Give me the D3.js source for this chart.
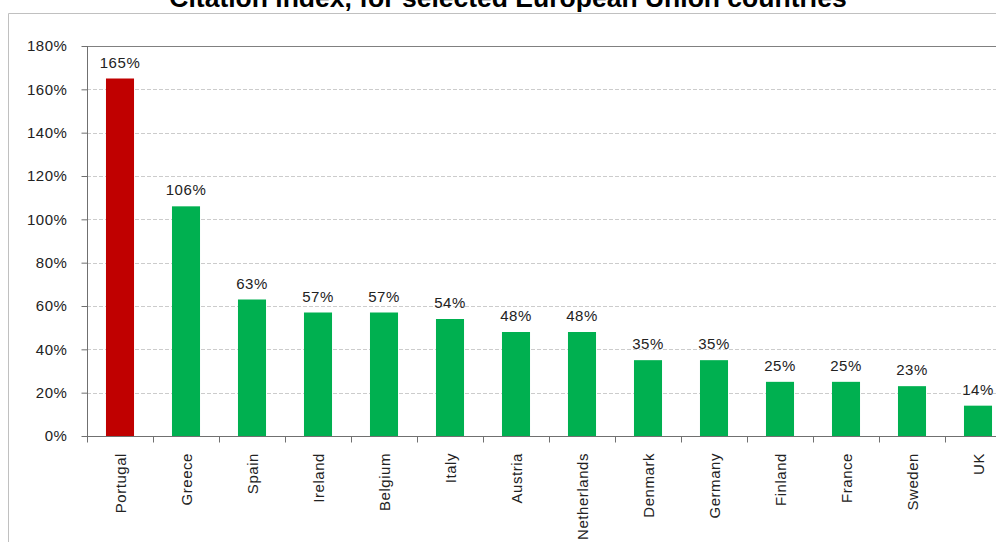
<!DOCTYPE html>
<html>
<head>
<meta charset="utf-8">
<script src="https://cdn.jsdelivr.net/npm/d3@7"></script>
<style>
  html, body { margin: 0; padding: 0; background: #fff; overflow: hidden; }
  svg { display: block; font-family: Arial, "Liberation Sans", sans-serif; }
</style>
</head>
<body>
<svg id="chart" width="996" height="542"></svg>
<script>
// Citation index by country (percent)
const countries = ["Portugal", "Greece", "Spain", "Ireland", "Belgium", "Italy", "Austria",
  "Netherlands", "Denmark", "Germany", "Finland", "France", "Sweden", "UK"];
const citationIndex = [165, 106, 63, 57, 57, 54, 48, 48, 35, 35, 25, 25, 23, 14];
const highlighted = ["Portugal"];
const yTicks = [0, 20, 40, 60, 80, 100, 120, 140, 160, 180];
const titleText = "Citation index, for selected European Union countries";

const svg = d3.select("#chart");
const plot = { left: 87, top: 46, bottom: 436, band: 66 };
const labelFont = { size: 15, spacing: 0.55, color: "#222" };

// Outer chart frame
svg.append("path")
  .attr("d", "M8.5,542 V13.5 H996")
  .attr("fill", "none")
  .attr("stroke", "#c0c0c0")
  .attr("stroke-width", 1);

svg.append("text")
  .attr("x", 508)
  .attr("y", 7)
  .attr("text-anchor", "middle")
  .attr("font-weight", "bold")
  .attr("font-size", 26.5)
  .attr("fill", "#000")
  .text(titleText);

const x = d3.scaleBand()
  .domain(countries)
  .range([plot.left, plot.left + plot.band * countries.length])
  .paddingInner(0.575)
  .paddingOuter(0.2875);

const y = d3.scaleLinear().domain([0, 180]).range([plot.bottom, plot.top]);

// Horizontal gridlines
svg.append("g")
  .selectAll("line")
  .data(yTicks.filter(t => t > 0 && t < 180))
  .join("line")
  .attr("x1", plot.left)
  .attr("x2", 996)
  .attr("y1", d => Math.round(y(d)) + 0.5)
  .attr("y2", d => Math.round(y(d)) + 0.5)
  .attr("stroke", "#cccccc")
  .attr("stroke-dasharray", "4,2");

// Top frame line of the plot area
svg.append("line")
  .attr("x1", plot.left).attr("x2", 996)
  .attr("y1", Math.round(y(180)) + 0.5).attr("y2", Math.round(y(180)) + 0.5)
  .attr("stroke", "#808080");

// Bars
svg.append("g")
  .selectAll("rect")
  .data(countries)
  .join("rect")
  .attr("x", d => x(d))
  .attr("width", x.bandwidth())
  .attr("y", (d, i) => y(citationIndex[i]))
  .attr("height", (d, i) => y(0) - y(citationIndex[i]))
  .attr("fill", d => highlighted.includes(d) ? "#c00000" : "#00b050");

// Value labels
svg.append("g")
  .selectAll("text")
  .data(countries)
  .join("text")
  .attr("x", d => x(d) + x.bandwidth() / 2)
  .attr("y", (d, i) => y(citationIndex[i]) - 11)
  .attr("text-anchor", "middle")
  .attr("font-size", labelFont.size)
  .attr("letter-spacing", labelFont.spacing)
  .attr("fill", labelFont.color)
  .text((d, i) => citationIndex[i] + "%");

// Y axis
const yAxis = svg.append("g")
  .attr("transform", `translate(${plot.left + 0.5},0)`)
  .call(d3.axisLeft(y).tickValues(yTicks).tickFormat(d => d + "%").tickSize(6).tickPadding(14));
yAxis.select(".domain").attr("stroke", "#707070").attr("d", `M0,${plot.top}V${plot.bottom}`);
yAxis.selectAll(".tick line").attr("stroke", "#707070");
yAxis.selectAll(".tick text")
  .attr("font-size", labelFont.size)
  .attr("letter-spacing", labelFont.spacing)
  .attr("font-family", "Arial, 'Liberation Sans', sans-serif")
  .attr("fill", labelFont.color);

// X axis with tick marks between categories
const xAxisG = svg.append("g").attr("transform", `translate(0,${plot.bottom + 0.5})`);
xAxisG.append("line")
  .attr("x1", plot.left).attr("x2", 996)
  .attr("stroke", "#707070");
xAxisG.selectAll("line.sep")
  .data(d3.range(countries.length + 1))
  .join("line")
  .attr("class", "sep")
  .attr("x1", i => plot.left + 0.5 + i * plot.band)
  .attr("x2", i => plot.left + 0.5 + i * plot.band)
  .attr("y1", 0).attr("y2", 6)
  .attr("stroke", "#707070");

// Rotated category labels
svg.append("g")
  .selectAll("text")
  .data(countries)
  .join("text")
  .attr("transform", d => `translate(${x(d) + x.bandwidth() / 2 + 5.5},453) rotate(-90)`)
  .attr("text-anchor", "end")
  .attr("font-size", labelFont.size)
  .attr("letter-spacing", labelFont.spacing)
  .attr("fill", labelFont.color)
  .text(d => d);
</script>
</body>
</html>
